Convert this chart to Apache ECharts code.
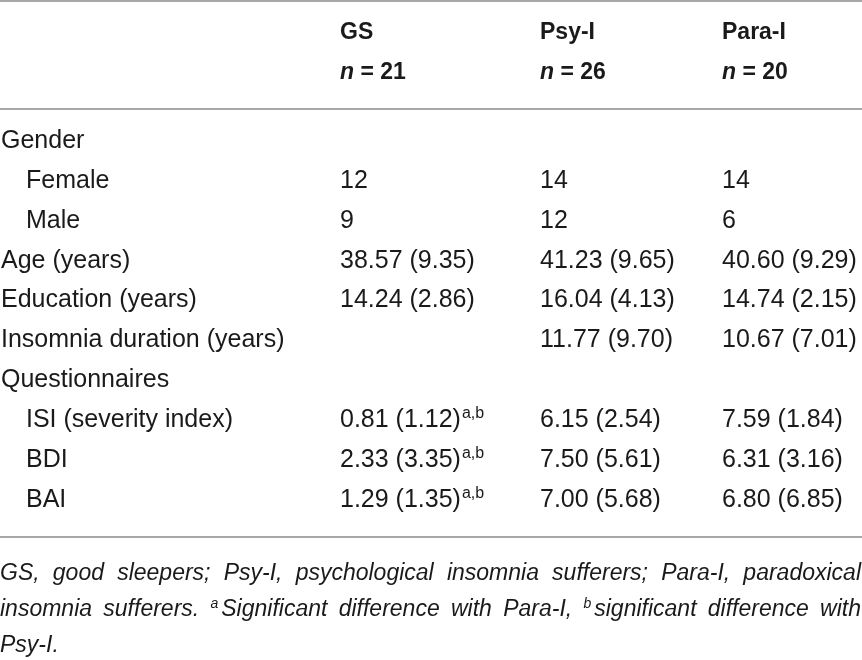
<!DOCTYPE html>
<html lang="en">
<head>
    <meta charset="UTF-8">
    <title>Participants characteristics</title>
    <script src="https://cdn.jsdelivr.net/npm/echarts@6/dist/echarts.min.js"></script>
    <style>
        html, body { margin: 0; padding: 0; background: #fff; }
        #main { width: 862px; height: 660px; }
    </style>
</head>
<body>
<div id="main"></div>
<script type="text/javascript">
    // table content
    var groups = ['GS', 'Psy-I', 'Para-I'];
    var groupN = ['21', '26', '20'];
    var rowLabels = ['Gender', 'Female', 'Male', 'Age (years)', 'Education (years)',
        'Insomnia duration (years)', 'Questionnaires', 'ISI (severity index)', 'BDI', 'BAI'];
    var rowIndent = [0, 1, 1, 0, 0, 0, 0, 1, 1, 1];
    var gsValues = ['', '12', '9', '38.57 (9.35)', '14.24 (2.86)', '', '', '0.81 (1.12)', '2.33 (3.35)', '1.29 (1.35)'];
    var gsSup = ['', '', '', '', '', '', '', 'a,b', 'a,b', 'a,b'];
    var psyValues = ['', '14', '12', '41.23 (9.65)', '16.04 (4.13)', '11.77 (9.70)', '', '6.15 (2.54)', '7.50 (5.61)', '7.00 (5.68)'];
    var paraValues = ['', '14', '6', '40.60 (9.29)', '14.74 (2.15)', '10.67 (7.01)', '', '7.59 (1.84)', '6.31 (3.16)', '6.80 (6.85)'];
    // footnote, "^x" marks a superscript letter at the start of a word
    var footLines = [
        'GS, good sleepers; Psy-I, psychological insomnia sufferers; Para-I, paradoxical',
        'insomnia sufferers. ^aSignificant difference with Para-I, ^bsignificant difference with',
        'Psy-I.'
    ];

    var FONT = '"Liberation Sans", Arial, sans-serif';
    var TXT = '#1a1a1a';
    var LINE = '#a8a8a8';
    var W = 862;
    var colX = [1, 340, 540, 722];   // label column, GS, Psy-I, Para-I
    var indentPx = 25;
    var bodyFont = '25px ' + FONT;
    var footFont = 'italic 23px ' + FONT;
    var footSupFont = 'italic 14px ' + FONT;

    var cells = [];
    for (var i = 0; i < rowLabels.length; i++) {
        cells.push([0, i, rowLabels[i], '']);
        cells.push([1, i, gsValues[i], gsSup[i]]);
        cells.push([2, i, psyValues[i], '']);
        cells.push([3, i, paraValues[i], '']);
    }

    var ctx = document.createElement('canvas').getContext('2d');
    function measure(t, f) { ctx.font = f; return ctx.measureText(t).width; }

    var chart = echarts.init(document.getElementById('main'));

    var graphics = [];
    [1, 109, 537].forEach(function (y) {
        graphics.push({ type: 'line', shape: { x1: 0, y1: y, x2: W, y2: y }, style: { stroke: LINE, lineWidth: 2 } });
    });
    groups.forEach(function (g, k) {
        graphics.push({
            type: 'text', x: colX[k + 1], y: 33,
            style: { text: g, font: 'bold 23px ' + FONT, fill: TXT, verticalAlign: 'middle' }
        });
        graphics.push({
            type: 'text', x: colX[k + 1], y: 73,
            style: {
                text: '{i|n}{v| = ' + groupN[k] + '}', fill: TXT, verticalAlign: 'middle',
                rich: {
                    i: { font: 'italic bold 23px ' + FONT, fill: TXT },
                    v: { font: 'bold 23px ' + FONT, fill: TXT }
                }
            }
        });
    });

    // justified footnote
    footLines.forEach(function (line, k) {
        var words = line.split(' ').map(function (w) {
            var sup = '', rest = w;
            if (w.charAt(0) === '^') { sup = w.charAt(1); rest = w.slice(2); }
            var wd = measure(rest, footFont) + (sup ? measure(sup, footSupFont) + 3 : 0);
            return { sup: sup, rest: rest, w: wd };
        });
        var total = words.reduce(function (s, o) { return s + o.w; }, 0);
        var last = k === footLines.length - 1;
        var gap = last ? measure(' ', footFont) : (W - 1 - total) / (words.length - 1);
        var x = 0;
        words.forEach(function (o) {
            graphics.push({
                type: 'text', x: x, y: 574 + k * 36,
                style: {
                    text: (o.sup ? '{s|' + o.sup + '}' : '') + '{t|' + o.rest + '}',
                    fill: TXT, verticalAlign: 'middle',
                    rich: {
                        t: { font: footFont, fill: TXT },
                        s: { font: footSupFont, fill: TXT, padding: [0, 3, 12, 0] }
                    }
                }
            });
            x += o.w + gap;
        });
    });

    var option = {
        animation: false,
        grid: { left: 0, right: 0, top: 121, bottom: 140 },
        xAxis: { type: 'value', min: 0, max: W, show: false },
        yAxis: { type: 'category', data: rowLabels, inverse: true, show: false },
        graphic: graphics,
        series: [{
            type: 'custom',
            data: cells,
            renderItem: function (params, api) {
                var col = api.value(0);
                var row = api.value(1);
                var d = cells[params.dataIndex];
                var x = colX[col] + (col === 0 ? rowIndent[row] * indentPx : 0);
                var p = api.coord([x, row]);
                var txt = d[3] ? '{v|' + d[2] + '}{s|' + d[3] + '}' : '{v|' + d[2] + '}';
                return {
                    type: 'text',
                    x: p[0], y: p[1],
                    style: {
                        text: txt, fill: TXT, verticalAlign: 'middle',
                        rich: {
                            v: { font: bodyFont, fill: TXT },
                            s: { font: '16px ' + FONT, fill: TXT, padding: [0, 0, 13, 1] }
                        }
                    }
                };
            }
        }]
    };
    chart.setOption(option);
</script>
</body>
</html>
